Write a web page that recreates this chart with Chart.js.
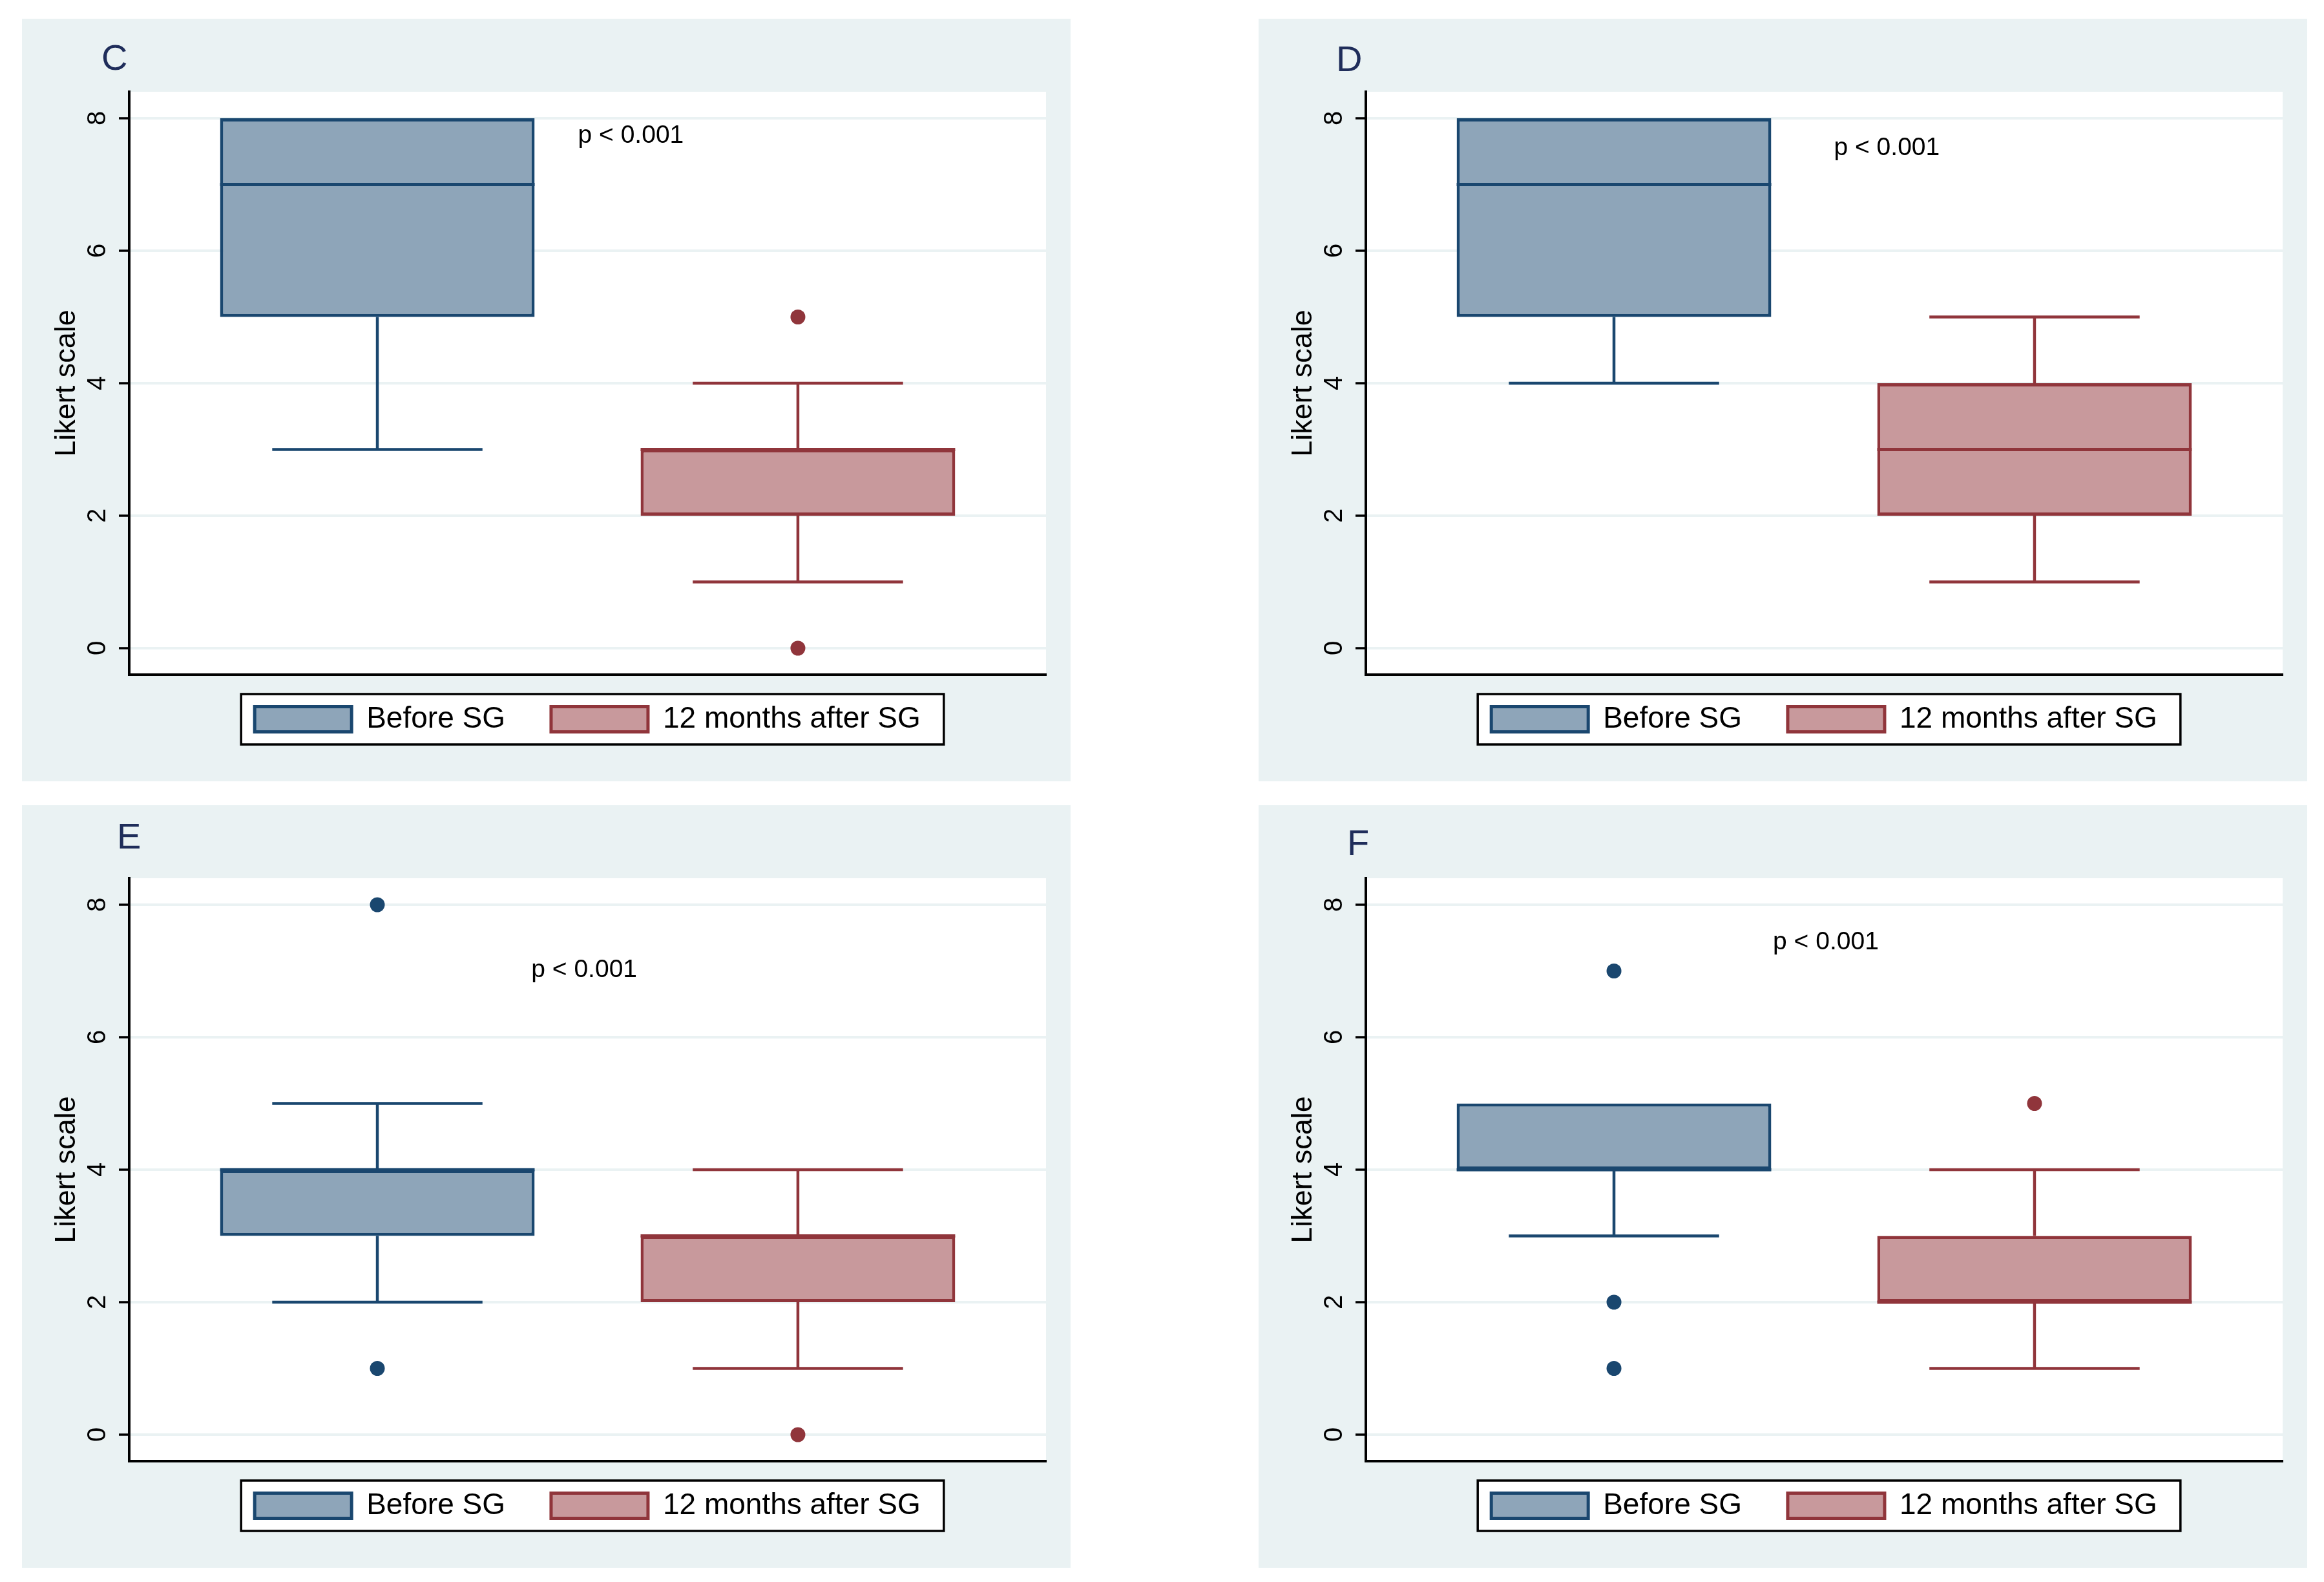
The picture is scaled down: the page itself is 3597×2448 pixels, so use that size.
<!DOCTYPE html>
<html>
<head>
<meta charset="utf-8">
<script src="https://cdn.jsdelivr.net/npm/chart.js@4.4.1/dist/chart.umd.min.js"></script>
<style>
    html, body { margin: 0; padding: 0; background: #fff; }
    body { width: 3597px; height: 2448px; position: relative; overflow: hidden; }
    .panel { position: absolute; width: 1623px; height: 1180px; }
</style>
</head>
<body>
<div class="panel" style="left:34px; top:29px"><canvas id="chart0" width="1623" height="1180"></canvas></div>
<div class="panel" style="left:1948px; top:29px"><canvas id="chart1" width="1623" height="1180"></canvas></div>
<div class="panel" style="left:34px; top:1246px"><canvas id="chart2" width="1623" height="1180"></canvas></div>
<div class="panel" style="left:1948px; top:1246px"><canvas id="chart3" width="1623" height="1180"></canvas></div>
<script>
// --- data (one entry per panel, [before, after]) ---
const panels = ['C', 'D', 'E', 'F'];
const groups = ['Before SG', '12 months after SG'];
const groupX = [1, 2];
const whiskerLow  = [[3, 1], [4, 1], [2, 1], [3, 1]];
const quartile1   = [[5, 2], [5, 2], [3, 2], [4, 2]];
const medians     = [[7, 3], [7, 3], [4, 3], [4, 2]];
const quartile3   = [[8, 3], [8, 4], [4, 3], [5, 3]];
const whiskerHigh = [[8, 4], [8, 5], [5, 4], [5, 4]];
const outliersBefore = [[], [], [8, 1], [7, 2, 1]];
const outliersAfter  = [[5, 0], [], [0], [5]];
const pValues = ['p < 0.001', 'p < 0.001', 'p < 0.001', 'p < 0.001'];
const yTicks = [0, 2, 4, 6, 8];

// --- layout / style ---
const pLabelPos = [[1.477, 7.73], [1.523, 7.55], [1.366, 7.01], [1.378, 7.43]];
const letterPos = [[123, 79], [120, 81], [147, 67], [137, 77]];
const lineColors = ['#1a476f', '#90353b'];
const fillColors = ['#8ea5b9', '#c8999c'];
const BOX_WIDTH = 0.748;
const CAP_WIDTH = 0.5;
const LEGEND_SHIFT = 25;
const FONT = '"Liberation Sans", Arial, Helvetica, sans-serif';

Chart.defaults.font.family = FONT;

const panelDecor = {
    id: 'panelDecor',
    afterLayout(chart) {
        // pull legend row up closer to the plot
        chart.legend.top -= LEGEND_SHIFT;
        chart.legend.bottom -= LEGEND_SHIFT;
    },
    beforeDraw(chart) {
        const {ctx, chartArea: a, legend} = chart;
        ctx.save();
        ctx.fillStyle = '#eaf2f3';
        ctx.fillRect(0, 0, chart.width, chart.height);
        ctx.fillStyle = '#ffffff';
        ctx.fillRect(a.left, a.top, a.right - a.left, a.bottom - a.top);

        const hb = legend.legendHitBoxes;
        if (hb && hb.length) {
            const first = hb[0], last = hb[hb.length - 1];
            const cy = first.top + first.height / 2;
            const x0 = first.left - 21;
            const x1 = last.left + last.width + 36;
            ctx.fillRect(x0, cy - 39, x1 - x0, 78);
            ctx.strokeStyle = '#000';
            ctx.lineWidth = 3.5;
            ctx.strokeRect(x0, cy - 39, x1 - x0, 78);
        }
        ctx.restore();
    },
    afterDatasetsDraw(chart, args, opts) {
        const {ctx, scales} = chart;
        ctx.save();
        ctx.font = '39px ' + FONT;
        ctx.fillStyle = '#000';
        ctx.textAlign = 'left';
        ctx.textBaseline = 'middle';
        ctx.fillText(opts.pText, scales.x.getPixelForValue(opts.pPos[0]), scales.y.getPixelForValue(opts.pPos[1]));
        ctx.restore();
    },
    afterDraw(chart, args, opts) {
        const ctx = chart.ctx;
        ctx.save();
        ctx.font = '56px ' + FONT;
        ctx.fillStyle = '#1f2d5a';
        ctx.textAlign = 'left';
        ctx.textBaseline = 'alphabetic';
        ctx.fillText(opts.letter, opts.letterPos[0], opts.letterPos[1]);
        ctx.restore();
    }
};

function line(points, color, width, order) {
    return {
        type: 'scatter',
        showLine: true,
        data: points.map(([x, y]) => ({x, y})),
        borderColor: color,
        borderWidth: width,
        pointRadius: 0,
        order: order
    };
}

function buildDatasets(p) {
    const sets = [];
    groups.forEach((g, i) => {
        sets.push({
            type: 'bar',
            label: g,
            data: [{x: groupX[i], y: [quartile1[p][i], quartile3[p][i]]}],
            backgroundColor: fillColors[i],
            borderColor: lineColors[i],
            borderWidth: 5,
            borderSkipped: false,
            grouped: false,
            barPercentage: BOX_WIDTH,
            categoryPercentage: 1,
            order: 3
        });
    });
    groups.forEach((g, i) => {
        const x = groupX[i], c = lineColors[i];
        const hi = whiskerHigh[p][i], lo = whiskerLow[p][i];
        const q1 = quartile1[p][i], q3 = quartile3[p][i], med = medians[p][i];
        if (hi > q3) {
            sets.push(line([[x, q3], [x, hi]], c, 4.5, 4));
            sets.push(line([[x - CAP_WIDTH / 2, hi], [x + CAP_WIDTH / 2, hi]], c, 4.5, 4));
        }
        if (lo < q1) {
            sets.push(line([[x, q1], [x, lo]], c, 4.5, 4));
            sets.push(line([[x - CAP_WIDTH / 2, lo], [x + CAP_WIDTH / 2, lo]], c, 4.5, 4));
        }
        sets.push(line([[x - BOX_WIDTH / 2, med], [x + BOX_WIDTH / 2, med]], c, 5, 2));

        const outs = i === 0 ? outliersBefore[p] : outliersAfter[p];
        if (outs.length) {
            sets.push({
                type: 'scatter',
                data: outs.map(v => ({x: x, y: v})),
                backgroundColor: c,
                borderColor: c,
                borderWidth: 0,
                pointRadius: 11.5,
                order: 1
            });
        }
    });
    return sets;
}

panels.forEach((letter, p) => {
    new Chart(document.getElementById('chart' + p), {
        type: 'bar',
        data: { datasets: buildDatasets(p) },
        options: {
            responsive: false,
            animation: false,
            devicePixelRatio: 1,
            layout: { padding: { left: 0, right: 38, top: 113, bottom: 38 } },
            scales: {
                x: {
                    type: 'linear',
                    offset: false,
                    min: 0.41,
                    max: 2.59,
                    afterBuildTicks: axis => { axis.ticks = groupX.map(v => ({value: v})); },
                    grid: { display: false, drawTicks: false, offset: false },
                    ticks: { display: false },
                    border: { display: true, color: '#000', width: 4 }
                },
                y: {
                    type: 'linear',
                    min: -0.4,
                    max: 8.4,
                    afterBuildTicks: axis => { axis.ticks = yTicks.map(v => ({value: v})); },
                    afterFit: axis => { axis.width = 166; },
                    grid: { color: '#eaf2f3', lineWidth: 4, tickColor: '#000', tickWidth: 3.5, tickLength: 16 },
                    border: { display: true, color: '#000', width: 4 },
                    ticks: {
                        autoSkip: false,
                        minRotation: 90,
                        maxRotation: 90,
                        crossAlign: 'center',
                        padding: 21,
                        color: '#000',
                        font: { size: 40 }
                    },
                    title: {
                        display: true,
                        text: 'Likert scale',
                        color: '#000',
                        font: { size: 45 },
                        padding: { top: 43, bottom: 0 }
                    }
                }
            },
            plugins: {
                tooltip: { enabled: false },
                legend: {
                    position: 'bottom',
                    fullSize: false,
                    labels: {
                        filter: (item, data) => data.datasets[item.datasetIndex].type === 'bar',
                        boxWidth: 150,
                        boxHeight: 39,
                        padding: 71,
                        color: '#000',
                        font: { size: 46 }
                    }
                },
                panelDecor: {
                    letter: letter,
                    letterPos: letterPos[p],
                    pText: pValues[p],
                    pPos: pLabelPos[p]
                }
            }
        },
        plugins: [panelDecor]
    });
});
</script>
</body>
</html>
